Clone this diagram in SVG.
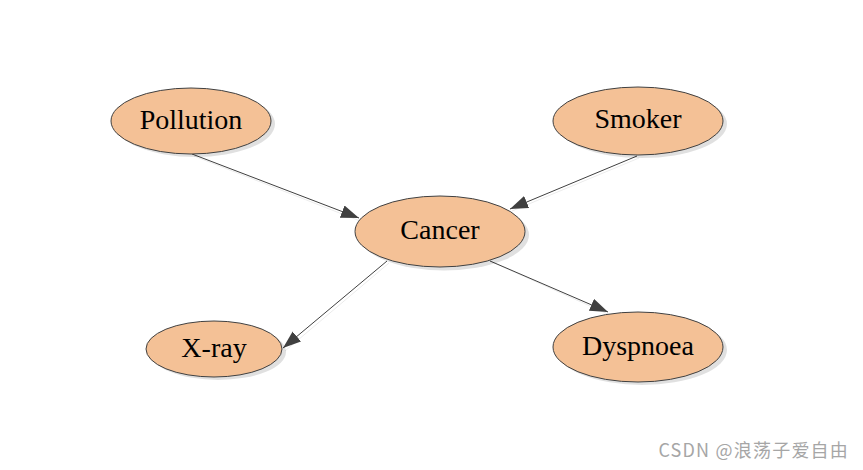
<svg xmlns="http://www.w3.org/2000/svg" width="863" height="470" viewBox="0 0 863 470">
<style>
.shadow{fill:#000;opacity:0.12}
.node{fill:#F4C196;stroke:#404040;stroke-width:1}
.lbl{font-family:"Liberation Serif","Times New Roman",serif;font-size:28px;fill:#000;text-anchor:middle}
.edge{stroke:#404040;stroke-width:1;fill:none;marker-end:url(#arr)}
.eshadow{stroke:#000;opacity:0.08;stroke-width:1;fill:none}
.wm{font-family:"Noto Sans CJK SC","Noto Sans",sans-serif;font-size:18px;letter-spacing:1.2px;fill:#a6a6a6;text-anchor:end}
</style>
<defs>
<marker id="arr" markerUnits="userSpaceOnUse" markerWidth="20" markerHeight="14" refX="18" refY="6.5" orient="auto">
<path d="M0,0 L18,6.5 L0,13 Z" fill="#404040"/>
</marker>
</defs>
<rect width="863" height="470" fill="#fff"/>
<g id="connectors">
<line class="eshadow" x1="194" y1="156" x2="360" y2="221"/>
<line class="eshadow" x1="639" y1="158" x2="512" y2="211"/>
<line class="eshadow" x1="389" y1="263" x2="285" y2="351"/>
<line class="eshadow" x1="492" y1="262" x2="610" y2="315"/>
<line class="edge" x1="192" y1="154" x2="359" y2="218"/>
<line class="edge" x1="637" y1="156" x2="510" y2="209"/>
<line class="edge" x1="387" y1="261" x2="283" y2="348"/>
<line class="edge" x1="490" y1="261" x2="608" y2="312"/>
</g>
<g id="pollution">
<ellipse class="shadow" cx="195" cy="124" rx="80" ry="33"/>
<ellipse class="node" cx="191" cy="121" rx="80" ry="33"/>
<text class="lbl" x="191" y="129">Pollution</text>
</g>
<g id="smoker">
<ellipse class="shadow" cx="642" cy="124" rx="85" ry="34"/>
<ellipse class="node" cx="638" cy="121" rx="85" ry="34"/>
<text class="lbl" x="638" y="128">Smoker</text>
</g>
<g id="cancer">
<ellipse class="shadow" cx="444" cy="235" rx="85" ry="35.5"/>
<ellipse class="node" cx="440" cy="231.5" rx="85" ry="35.5"/>
<text class="lbl" x="440" y="239">Cancer</text>
</g>
<g id="xray">
<ellipse class="shadow" cx="218" cy="352" rx="68" ry="28"/>
<ellipse class="node" cx="214" cy="349" rx="68" ry="28"/>
<text class="lbl" x="214" y="357">X-ray</text>
</g>
<g id="dyspnoea">
<ellipse class="shadow" cx="642" cy="350" rx="85" ry="35"/>
<ellipse class="node" cx="638" cy="347" rx="85" ry="35"/>
<text class="lbl" x="638" y="355">Dyspnoea</text>
</g>
<text class="wm" x="849" y="457">CSDN @浪荡子爱自由</text>
</svg>
